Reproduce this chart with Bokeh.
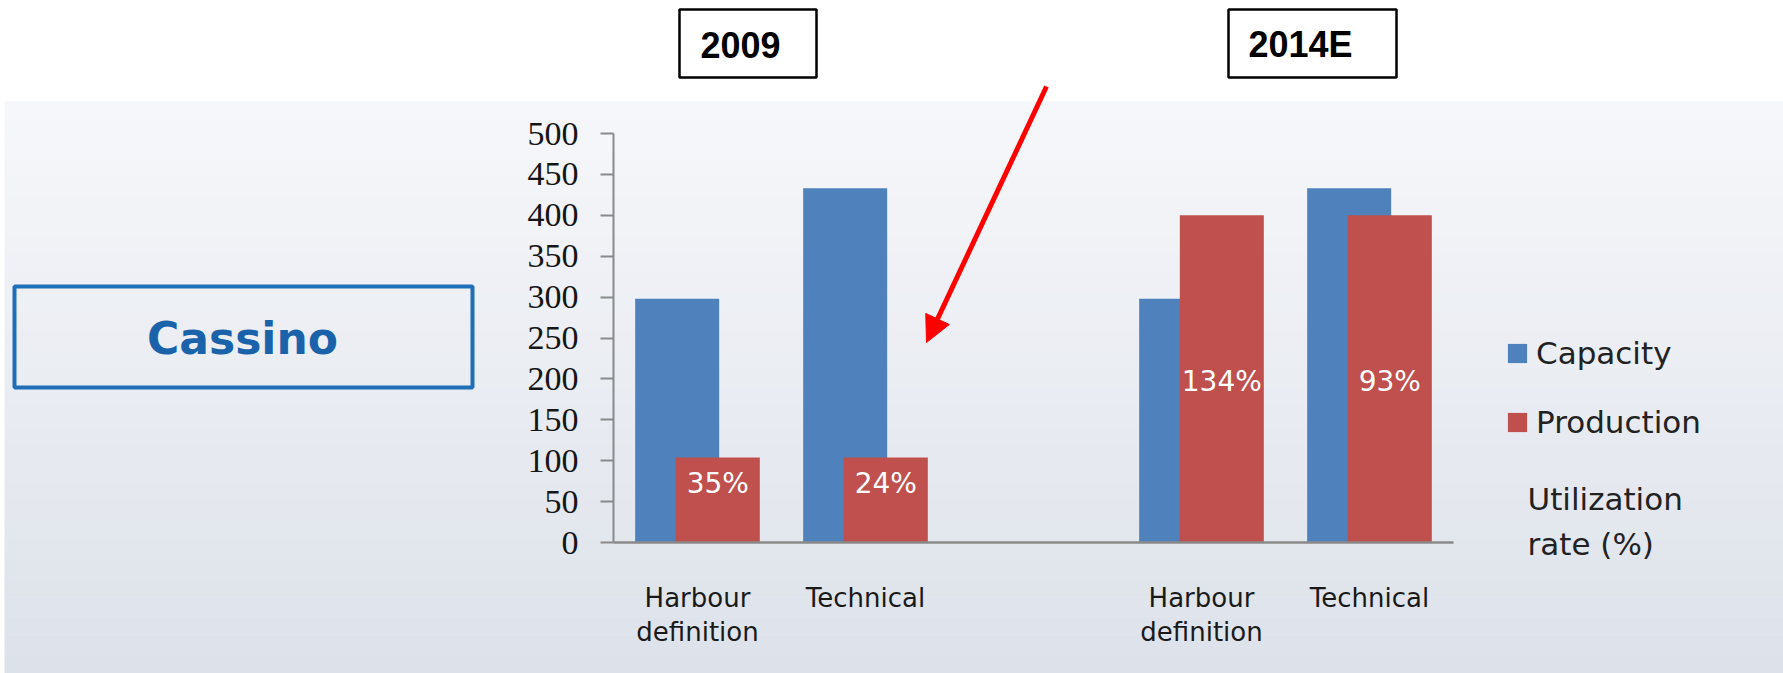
from bokeh.plotting import figure
from bokeh.models import (ColumnDataSource, FactorRange, Range1d, FixedTicker, BoxAnnotation,
                          Label, LabelSet, Arrow, NormalHead, Legend, LegendItem, GridBox)
from bokeh.transform import dodge
from bokeh.core.properties import value
from bokeh.embed import file_html
from bokeh.resources import INLINE

# ---------------- data ----------------
years = ["2009", "2009", "2014E", "2014E"]
definitions = ["Harbour\ndefinition", "Technical", "Harbour\ndefinition", "Technical"]
capacity = [298, 433, 298, 433]
production = [104, 104, 400, 400]
utilization = ["35%", "24%", "134%", "93%"]
utilization_label_y = [72, 72, 197, 197]
y_ticks = [0, 50, 100, 150, 200, 250, 300, 350, 400, 450, 500]
series_names = ["Capacity", "Production"]
series_colors = ["#4f81bd", "#c0504d"]
panel_title = "Cassino"
year_titles = ["2009", "2014E"]
side_note = "Utilization\nrate (%)"

# ---------------- layout ----------------
W, H = 1783, 673
FL, FR, FT, FB = 613, 1453, 133, 542

# ---- background / decoration layer (pixel coordinates, y down) ----
bg = figure(width=W, height=H, x_range=Range1d(0, W), y_range=Range1d(H, 0),
            min_border=0, x_axis_type=None, y_axis_type=None,
            output_backend="svg", toolbar_location=None)
bg.frame_align = False
bg.outline_line_color = None
bg.border_fill_color = "white"
bg.background_fill_color = "white"
bg.grid.visible = False

top_c = (246, 247, 250)
bot_c = (221, 226, 234)
y0, y1, n = 101, H, 30
lefts, rights, tops, bottoms, cols = [], [], [], [], []
for i in range(n):
    t = i / (n - 1)
    c = tuple(int(round(top_c[k] + (bot_c[k] - top_c[k]) * t)) for k in range(3))
    lefts.append(4); rights.append(W)
    tops.append(y0 + (y1 - y0) * i / n)
    bottoms.append(y0 + (y1 - y0) * (i + 1) / n + 0.5)
    cols.append("#%02x%02x%02x" % c)
bg.quad(left=lefts, right=rights, top=tops, bottom=bottoms, fill_color=cols, line_color=None)

# Cassino box
bg.add_layout(BoxAnnotation(left=14, right=472, top=286, bottom=387,
                            fill_alpha=0, line_color="#1f6fb8", line_alpha=1, line_width=4))
bg.add_layout(Label(x=242, y=338, text=panel_title,
                    text_align="center", text_baseline="middle", text_font="DejaVu Sans",
                    text_font_style="bold", text_font_size="44px", text_color="#1a63ab"))

# year boxes
for (l, r, tx), t in zip([(679, 816, 700), (1228, 1396, 1248)], year_titles):
    bg.add_layout(BoxAnnotation(left=l, right=r, top=9, bottom=77,
                                fill_color="white", fill_alpha=1,
                                line_color="black", line_alpha=1, line_width=2.5))
    bg.add_layout(Label(x=tx, y=44, text=t,
                        text_align="left", text_baseline="middle", text_font="Liberation Sans",
                        text_font_style="bold", text_font_size="36px", text_color="black"))

# utilization note
bg.add_layout(Label(x=1527, y=480, text=side_note,
                    text_align="left", text_baseline="top", text_font="DejaVu Sans",
                    text_font_size="31px", text_color="#222222", text_line_height=1.25))

# red arrow
bg.add_layout(Arrow(end=NormalHead(size=26, fill_color="red", line_color="red", line_width=1),
                    x_start=1046, y_start=86, x_end=926, y_end=342,
                    line_color="red", line_width=5))

# legend keys (share the bar colours; they draw nothing on the canvas themselves)
nan = float("nan")
key_rs = [bg.vbar(x=[nan], top=[nan], bottom=[nan], width=1, fill_color=c, line_color=None)
          for c in series_colors]
legend = Legend(items=[LegendItem(label=nm, renderers=[r]) for nm, r in zip(series_names, key_rs)],
                location=(1505, H - 440),
                glyph_width=24, glyph_height=24, label_standoff=7, spacing=33,
                padding=0, margin=0, border_line_alpha=0, background_fill_alpha=0,
                label_text_font="DejaVu Sans", label_text_font_size="31px",
                label_text_color="#222222")
bg.add_layout(legend)

# ---- chart layer ----
factors = list(zip(years, definitions))
src = ColumnDataSource(dict(cat=factors, capacity=capacity, production=production,
                            util=utilization, util_y=utilization_label_y))

p = figure(width=W, height=H,
           x_range=FactorRange(factors=factors, group_padding=1.0, factor_padding=0.0, range_padding=0.0),
           y_range=Range1d(0, 500),
           output_backend="svg", toolbar_location=None,
           min_border_left=FL, min_border_right=W - FR, min_border_top=FT, min_border_bottom=H - FB)
p.frame_align = False
p.border_fill_color = None
p.background_fill_color = None
p.outline_line_color = None
p.xgrid.visible = False
p.ygrid.visible = False

p.vbar(x=dodge("cat", -0.121, range=p.x_range), top="capacity", width=0.5,
       source=src, fill_color=series_colors[0], line_color=None)
p.vbar(x=dodge("cat", 0.121, range=p.x_range), top="production", width=0.5,
       source=src, fill_color=series_colors[1], line_color=None)

p.add_layout(LabelSet(x=dodge("cat", 0.121, range=p.x_range), y="util_y", text="util", source=src,
                      text_align="center", text_baseline="middle", text_color="white",
                      text_font=value("DejaVu Sans"), text_font_size=value("28px")))

yax = p.yaxis[0]
yax.ticker = FixedTicker(ticks=y_ticks)
yax.major_tick_out = 13
yax.major_tick_in = 0
yax.minor_tick_out = 0
yax.minor_tick_in = 0
yax.axis_line_color = "#8a8a8a"
yax.axis_line_width = 2
yax.major_tick_line_color = "#8a8a8a"
yax.major_tick_line_width = 2
yax.major_label_text_font = "Liberation Serif"
yax.major_label_text_font_size = "34px"
yax.major_label_text_color = "#151515"
yax.major_label_standoff = 22

xax = p.xaxis[0]
xax.major_tick_out = 0
xax.major_tick_in = 0
xax.axis_line_color = "#8a8a8a"
xax.axis_line_width = 2.5
xax.major_label_text_font = "DejaVu Sans"
xax.major_label_text_font_size = "26px"
xax.major_label_text_color = "#1a1a1a"
xax.major_label_text_line_height = 1.15
xax.major_label_standoff = 40
xax.group_text_alpha = 0
xax.group_text_font_size = "1px"
xax.separator_line_alpha = 0

layout = GridBox(children=[(bg, 0, 0), (p, 0, 0)])
open("out.html", "w").write(file_html(layout, INLINE))
